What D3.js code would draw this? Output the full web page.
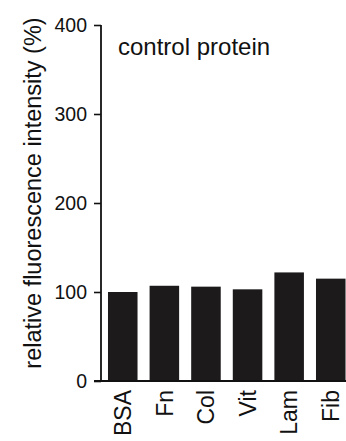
<!DOCTYPE html>
<html><head><meta charset="utf-8">
<script src="https://cdn.jsdelivr.net/npm/d3@7"></script>
<style>
html,body{margin:0;padding:0;background:#fff;}
svg{display:block;font-family:"Liberation Sans",Arial,Helvetica,sans-serif;}
</style></head>
<body>
<svg id="chart" width="346" height="441"></svg>
<script>
const categories = ["BSA","Fn","Col","Vit","Lam","Fib"];
const values = [100, 107, 106, 103, 122, 115];
const yTicks = [0, 100, 200, 300, 400];
const title = "control protein";
const yLabel = "relative fluorescence intensity (%)";

const svg = d3.select("#chart");
const axisX = 101, y0 = 381, yTop = 25;

const y = d3.scaleLinear().domain([0, 400]).range([y0, yTop]);
const step = 41.6, pIn = 0.29, pOut = 0.168;
const x = d3.scaleBand().domain(categories)
  .range([axisX, axisX + step * (categories.length - pIn + 2 * pOut)])
  .paddingInner(pIn).paddingOuter(pOut);

// bars
svg.append("g").selectAll("rect").data(categories).join("rect")
  .attr("x", d => x(d))
  .attr("width", x.bandwidth())
  .attr("y", (d, i) => y(values[i]))
  .attr("height", (d, i) => y0 - y(values[i]))
  .attr("fill", "#1c1a1a");

// y axis
const yAxis = d3.axisLeft(y).tickValues(yTicks).tickSize(7).tickPadding(7);
const gy = svg.append("g").attr("transform", `translate(${axisX},0)`).call(yAxis);
gy.select(".domain").attr("d", `M0,${yTop}V${y0}`).attr("stroke", "#111").attr("stroke-width", 1.8);
gy.selectAll(".tick line").attr("stroke", "#111").attr("stroke-width", 1.6);
gy.selectAll(".tick text").attr("font-size", 19.5).attr("fill", "#111")
  .attr("font-family", '"Liberation Sans",Arial,sans-serif');

// x axis baseline
const xAxis = d3.axisBottom(x).tickSize(0).tickPadding(0);
const gx = svg.append("g").attr("transform", `translate(0,${y0})`).call(xAxis);
gx.select(".domain").attr("d", `M${axisX - 7},0H346`).attr("stroke", "#111").attr("stroke-width", 1.8);
gx.selectAll(".tick text")
  .attr("font-size", 23).attr("fill", "#111")
  .attr("font-family", '"Liberation Sans",Arial,sans-serif')
  .attr("text-anchor", "end")
  .attr("transform", "translate(0,9) rotate(-90)")
  .attr("x", 0).attr("y", 0).attr("dy", "0.36em");

// title
svg.append("text").attr("x", 118).attr("y", 55)
  .attr("font-size", 24).attr("fill", "#111").text(title);

// y label
svg.append("text")
  .attr("transform", `translate(41,193) rotate(-90)`)
  .attr("text-anchor", "middle")
  .attr("font-size", 23.5).attr("fill", "#111").text(yLabel);
</script>
</body></html>
